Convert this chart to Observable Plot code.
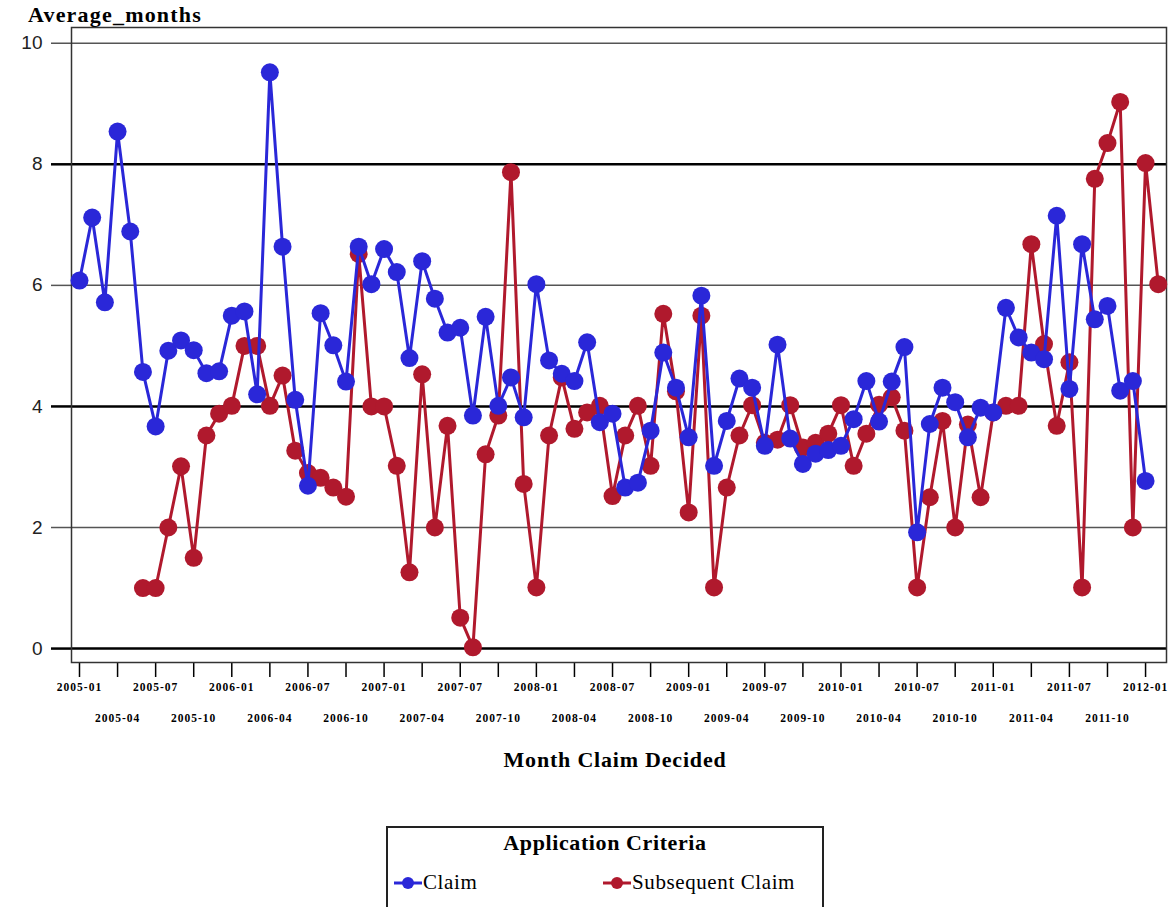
<!DOCTYPE html>
<html>
<head>
<meta charset="utf-8">
<script src="https://cdn.jsdelivr.net/npm/d3@7"></script>
<script src="https://cdn.jsdelivr.net/npm/@observablehq/plot@0.6"></script>
<style>
  html, body { margin: 0; padding: 0; background: #fff; overflow: hidden; }
  #wrap { position: relative; width: 1168px; height: 907px; }
  .ttl { position: absolute; font-family: "Liberation Serif", "DejaVu Serif", serif; font-weight: bold; color: #000; line-height: 1; white-space: nowrap; }
  #ytitle { left: 28px; top: 4px; font-size: 22px; letter-spacing: 1.2px; }
  #xtitle { left: 0; width: 1230px; text-align: center; top: 749px; font-size: 22px; letter-spacing: 0.8px; }
  #legend { position: absolute; left: 386px; top: 826px; width: 438px; height: 110px; border: 2px solid #222; box-sizing: border-box; font-family: "Liberation Serif", "DejaVu Serif", serif; }
  #legend .lt { position: absolute; left: 0; width: 100%; top: 4px; text-align: center; font-weight: bold; font-size: 22px; letter-spacing: 0.6px; line-height: 1; }
  #legend .item { position: absolute; top: 44px; display: flex; align-items: center; font-size: 21px; letter-spacing: 0.6px; line-height: 1; }
  #legend .item svg { margin-right: 1px; }
  svg g[aria-label="x-axis tick label"] text { letter-spacing: 1px; }
</style>
</head>
<body>
<div id="wrap">
  <div id="chart"></div>
  <div id="ytitle" class="ttl">Average_months</div>
  <div id="xtitle" class="ttl">Month Claim Decided</div>
  <div id="legend"></div>
</div>
<script>
// ---- data ----
const months = [
  "2005-01","2005-02","2005-03","2005-04","2005-05","2005-06","2005-07","2005-08","2005-09","2005-10","2005-11","2005-12",
  "2006-01","2006-02","2006-03","2006-04","2006-05","2006-06","2006-07","2006-08","2006-09","2006-10","2006-11","2006-12",
  "2007-01","2007-02","2007-03","2007-04","2007-05","2007-06","2007-07","2007-08","2007-09","2007-10","2007-11","2007-12",
  "2008-01","2008-02","2008-03","2008-04","2008-05","2008-06","2008-07","2008-08","2008-09","2008-10","2008-11","2008-12",
  "2009-01","2009-02","2009-03","2009-04","2009-05","2009-06","2009-07","2009-08","2009-09","2009-10","2009-11","2009-12",
  "2010-01","2010-02","2010-03","2010-04","2010-05","2010-06","2010-07","2010-08","2010-09","2010-10","2010-11","2010-12",
  "2011-01","2011-02","2011-03","2011-04","2011-05","2011-06","2011-07","2011-08","2011-09","2011-10","2011-11","2011-12",
  "2012-01","2012-02"
];
const claim = [
  6.08, 7.12, 5.72, 8.54, 6.89, 4.57, 3.67, 4.92, 5.09, 4.93, 4.55, 4.58,
  5.50, 5.57, 4.20, 9.52, 6.64, 4.11, 2.69, 5.54, 5.01, 4.41, 6.64, 6.02,
  6.60, 6.22, 4.80, 6.40, 5.78, 5.22, 5.30, 3.85, 5.48, 4.01, 4.48, 3.82,
  6.02, 4.76, 4.54, 4.42, 5.06, 3.74, 3.88, 2.66, 2.74, 3.60, 4.89, 4.31,
  3.49, 5.83, 3.02, 3.76, 4.46, 4.31, 3.35, 5.02, 3.47, 3.05, 3.22, 3.28,
  3.35, 3.79, 4.42, 3.75, 4.41, 4.98, 1.92, 3.71, 4.31, 4.07, 3.49, 3.98,
  3.90, 5.63, 5.14, 4.89, 4.78, 7.15, 4.29, 6.68, 5.44, 5.66, 4.26, 4.42,
  2.77, null
];
const subsequent = [
  null, null, null, null, null, 1.00, 1.00, 2.00, 3.01, 1.50, 3.52, 3.88,
  4.01, 5.00, 5.00, 4.01, 4.51, 3.27, 2.90, 2.82, 2.66, 2.51, 6.52, 4.00,
  4.00, 3.02, 1.26, 4.53, 2.00, 3.68, 0.51, 0.02, 3.21, 3.85, 7.87, 2.72,
  1.01, 3.52, 4.48, 3.63, 3.90, 4.01, 2.52, 3.52, 4.01, 3.02, 5.53, 4.25,
  2.25, 5.50, 1.01, 2.66, 3.52, 4.02, 3.40, 3.45, 4.02, 3.32, 3.40, 3.55,
  4.02, 3.02, 3.55, 4.03, 4.15, 3.60, 1.01, 2.50, 3.76, 2.00, 3.70, 2.50,
  3.90, 4.01, 4.01, 6.68, 5.03, 3.68, 4.73, 1.01, 7.76, 8.35, 9.03, 2.00,
  8.02, 6.02
];
const seriesNames = ["Claim", "Subsequent Claim"];
const seriesColors = ["#2a27d8", "#b0192d"];
const yTicksThick = [0, 4, 8];
const yTicksThin = [2, 6, 10];
const xTicksRow1 = [0, 6, 12, 18, 24, 30, 36, 42, 48, 54, 60, 66, 72, 78, 84];
const xTicksRow2 = [3, 9, 15, 21, 27, 33, 39, 45, 51, 57, 63, 69, 75, 81];

const rows = months.map((m, i) => ({i, month: m, claim: claim[i], subsequent: subsequent[i]}));

const tickFont = {fontFamily: "Liberation Serif, DejaVu Serif, serif", fontWeight: "bold", fontSize: 11.5};
const yFont = {fontFamily: "Liberation Sans, Arial, sans-serif", fontSize: 19};

const chart = Plot.plot({
  width: 1168,
  height: 780,
  marginLeft: 71,
  marginRight: 2,
  marginTop: 27,
  marginBottom: 118,
  style: {background: "#fff", color: "#111", overflow: "visible"},
  x: {type: "linear", domain: [-0.63, 85.65], axis: null, label: null},
  y: {domain: [-0.23, 10.26], axis: null, label: null},
  marks: [
    Plot.gridY(yTicksThin, {stroke: "#555", strokeOpacity: 1, strokeWidth: 1.5}),
    Plot.gridY(yTicksThick, {stroke: "#000", strokeOpacity: 1, strokeWidth: 2.5}),
    Plot.axisY(yTicksThin, {label: null, tickSize: 20, tickPadding: 9, stroke: "#555", strokeWidth: 1.5, fill: "#222", tickFormat: d => String(d), ...yFont}),
    Plot.axisY(yTicksThick, {label: null, tickSize: 20, tickPadding: 9, stroke: "#000", strokeWidth: 2.5, fill: "#222", tickFormat: d => String(d), ...yFont}),
    Plot.axisX(xTicksRow1, {label: null, tickSize: 15, tickPadding: 5, stroke: "#000", strokeWidth: 1.5, fill: "#000", tickFormat: i => months[i], ...tickFont}),
    Plot.axisX(xTicksRow2, {label: null, tickSize: 15, tickPadding: 36, stroke: "#000", strokeWidth: 1.5, fill: "#000", tickFormat: i => months[i], ...tickFont}),
    Plot.frame({stroke: "#333", strokeWidth: 1.5}),
    Plot.line(rows, {x: "i", y: "subsequent", stroke: seriesColors[1], strokeWidth: 3}),
    Plot.dot(rows, {x: "i", y: "subsequent", r: 9, fill: seriesColors[1], stroke: "none"}),
    Plot.line(rows, {x: "i", y: "claim", stroke: seriesColors[0], strokeWidth: 3}),
    Plot.dot(rows, {x: "i", y: "claim", r: 9, fill: seriesColors[0], stroke: "none"})
  ]
});
document.getElementById("chart").appendChild(chart);

// ---- legend ----
const legend = document.getElementById("legend");
const lt = document.createElement("div");
lt.className = "lt";
lt.textContent = "Application Criteria";
legend.appendChild(lt);
const itemLefts = [6, 215];
seriesNames.forEach((name, k) => {
  const it = document.createElement("div");
  it.className = "item";
  it.style.left = itemLefts[k] + "px";
  const c = seriesColors[k];
  it.innerHTML = `<svg width="28" height="14"><line x1="0" y1="7" x2="28" y2="7" stroke="${c}" stroke-width="3"/><circle cx="14" cy="7" r="6" fill="${c}"/></svg><span>${name}</span>`;
  legend.appendChild(it);
});
</script>
</body>
</html>
